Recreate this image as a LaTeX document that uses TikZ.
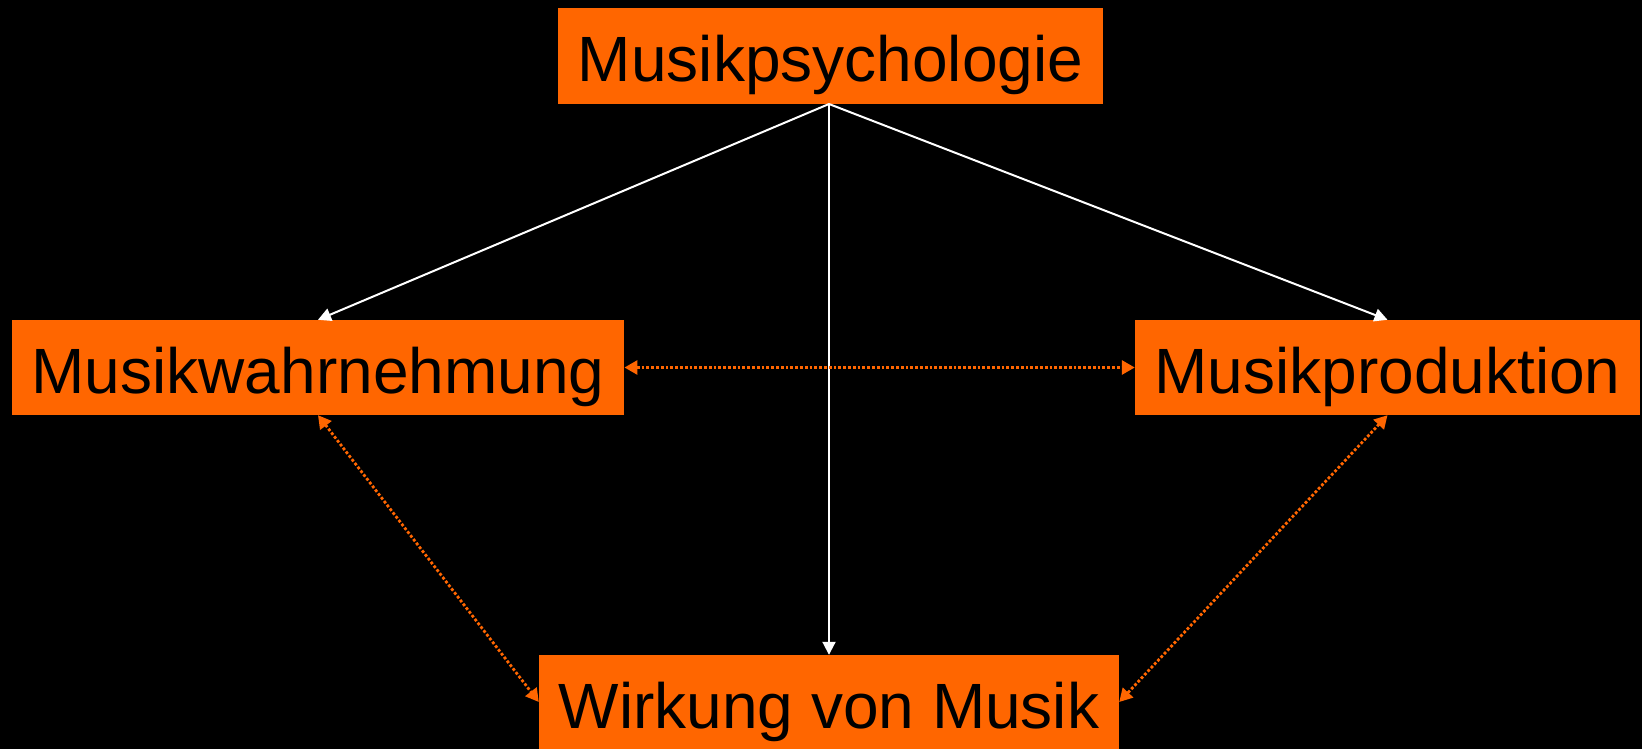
\documentclass[tikz,border=0pt]{standalone}
\usepackage{fontspec}
\setmainfont{Liberation Sans}
\usetikzlibrary{arrows.meta}
\definecolor{borange}{HTML}{FF6600}
\tikzset{
  box/.style={fill=borange, inner sep=0pt, font=\fontsize{64}{64}\selectfont, text=black, text height=61pt, text depth=9pt},
  whitearrow/.style={draw=white, line width=2pt, -{Triangle[width=13pt,length=13pt]}},
  dotlink/.style={draw=borange, line width=2.8pt, dotted, {Triangle[width=14pt,length=13pt]}-{Triangle[width=14pt,length=13pt]}}
}
\begin{document}
\begin{tikzpicture}[x=1pt,y=-1pt]
\fill[black] (0,0) rectangle (1642,749);
\useasboundingbox (0,0) rectangle (1642,749);
\node[box, minimum width=545pt, minimum height=96pt] (psy) at (830.5,56) {Musikpsychologie};
\node[box, minimum width=612.5pt, minimum height=95pt] (wahr) at (318,367.5) {Musikwahrnehmung};
\node[box, minimum width=505pt, minimum height=95pt] (prod) at (1387.5,367.5) {Musikproduktion};
\node[box, minimum width=580pt, minimum height=94pt] (wirk) at (829,702) {Wirkung von Musik};
\coordinate (src) at (829,104);
\draw[whitearrow] (src) -- (wahr.north);
\draw[whitearrow] (src) -- (prod.north);
\draw[whitearrow] (src) -- (wirk.north);
\draw[dotlink] (wahr.east) -- (prod.west);
\draw[dotlink] (wahr.south) -- (wirk.west);
\draw[dotlink] (prod.south) -- (wirk.east);
\end{tikzpicture}
\end{document}
